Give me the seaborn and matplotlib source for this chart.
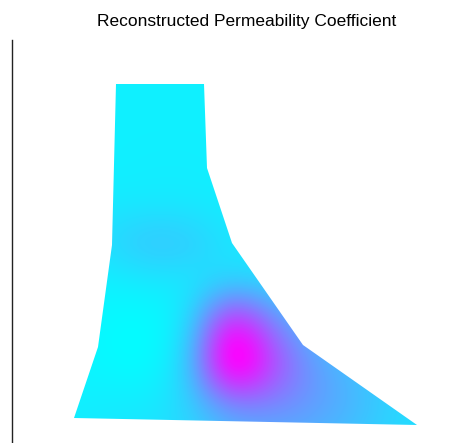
import numpy as np
import matplotlib
matplotlib.use("Agg")
import matplotlib.pyplot as plt
from matplotlib.patches import Polygon
import seaborn as sns

# contorno da barragem (x, y)
contorno_x = [62, 86, 100, 104, 192, 195, 220, 291, 405]
contorno_y = [25, 96, 198, 359, 359, 275, 200, 98, 18]

# grade grossa do coeficiente reconstruido (linhas = y, colunas = x)
grade_x = [60, 100, 140, 180, 220, 260, 300, 340, 380, 420]
grade_y = [0, 40, 80, 120, 160, 200, 240, 280, 320, 360]
permeabilidade = [
    [0.08, 0.10, 0.12, 0.15, 0.25, 0.28, 0.28, 0.22, 0.15, 0.12],
    [0.06, 0.08, 0.08, 0.18, 0.45, 0.48, 0.40, 0.30, 0.18, 0.12],
    [0.05, 0.02, 0.00, 0.20, 1.40, 0.75, 0.40, 0.25, 0.15, 0.10],
    [0.05, 0.02, 0.00, 0.12, 1.05, 0.50, 0.22, 0.12, 0.10, 0.10],
    [0.06, 0.05, 0.08, 0.08, 0.15, 0.12, 0.08, 0.08, 0.08, 0.08],
    [0.10, 0.17, 0.25, 0.22, 0.10, 0.08, 0.08, 0.08, 0.08, 0.08],
    [0.08, 0.08, 0.08, 0.08, 0.07, 0.07, 0.07, 0.07, 0.07, 0.07],
    [0.06, 0.06, 0.07, 0.07, 0.06, 0.06, 0.06, 0.06, 0.06, 0.06],
    [0.06, 0.06, 0.06, 0.06, 0.06, 0.06, 0.06, 0.06, 0.06, 0.06],
    [0.06, 0.06, 0.06, 0.06, 0.06, 0.06, 0.06, 0.06, 0.06, 0.06],
]

sns.set_style("white")
plt.rcParams["font.family"] = ["Liberation Sans", "DejaVu Sans"]

fig = plt.figure(figsize=(4.72, 4.43), dpi=100)
ax = fig.add_axes([12 / 472, 0, 470 / 472, 403 / 443])

passo = grade_x[1] - grade_x[0]
extent = (grade_x[0] - passo / 2, grade_x[-1] + passo / 2,
          grade_y[0] - passo / 2, grade_y[-1] + passo / 2)
im = ax.imshow(np.array(permeabilidade), origin="lower", extent=extent,
               cmap=sns.color_palette("cool", as_cmap=True), vmin=0, vmax=1,
               interpolation="bicubic", aspect="auto")

poly = Polygon(np.column_stack([contorno_x, contorno_y]), closed=True,
               facecolor="none", edgecolor="none")
ax.add_patch(poly)
im.set_clip_path(poly)

ax.set_xlim(0, 470)
ax.set_ylim(0, 403)
ax.set_xticks([])
ax.set_yticks([])
for lado in ["top", "right", "bottom"]:
    ax.spines[lado].set_visible(False)
ax.spines["left"].set_color("#222222")
ax.spines["left"].set_linewidth(1.0)

ax.set_title("Reconstructed Permeability Coefficient", fontsize=12.5,
             color="black", pad=10)

fig.savefig("out.png", dpi=100)
